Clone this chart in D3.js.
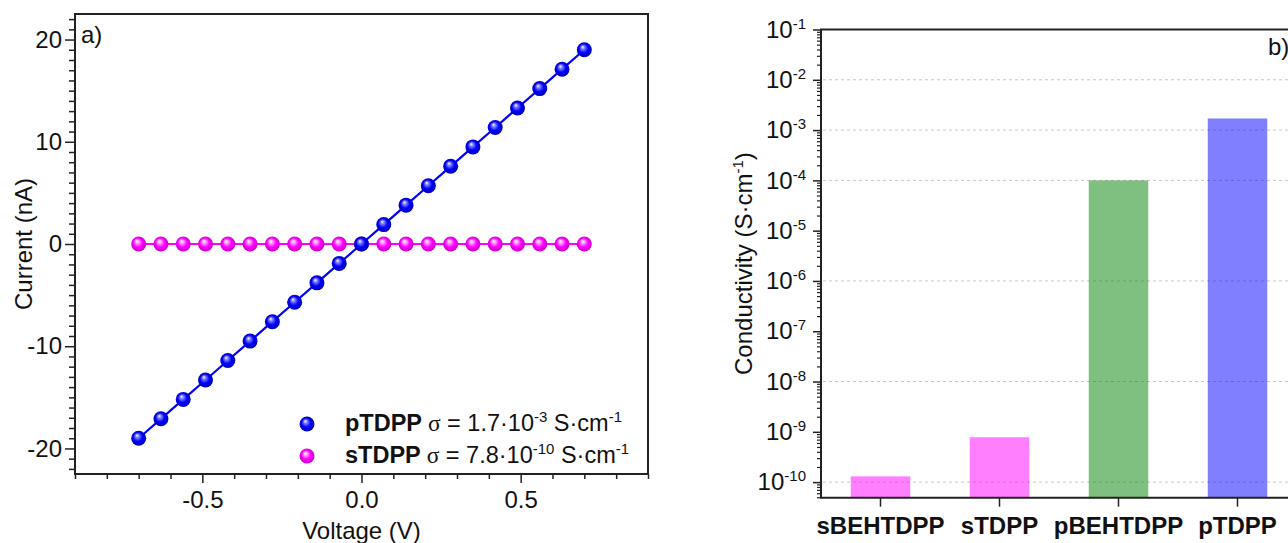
<!DOCTYPE html>
<html>
<head>
<meta charset="utf-8">
<script src="https://cdn.jsdelivr.net/npm/d3@7"></script>
<style>
  html, body { margin: 0; padding: 0; background: #fff; overflow: hidden; }
  svg { display: block; font-family: "Liberation Sans", Arial, sans-serif; }
</style>
</head>
<body>
<script>
//-----------------Data----------------

const voltage = [-0.70, -0.63, -0.56, -0.49, -0.42, -0.35, -0.28, -0.21, -0.14, -0.07, 0.00,
  0.07, 0.14, 0.21, 0.28, 0.35, 0.42, 0.49, 0.56, 0.63, 0.70];
const currentPTDPP = [-19.0, -17.1, -15.2, -13.3, -11.4, -9.5, -7.6, -5.7, -3.8, -1.9, 0.0,
  1.9, 3.8, 5.7, 7.6, 9.5, 11.4, 13.3, 15.2, 17.1, 19.0];
const currentSTDPP = [0, 0, 0, 0, 0, 0, 0, 0, 0, 0, 0, 0, 0, 0, 0, 0, 0, 0, 0, 0, 0];
const legendNames = ["pTDPP", "sTDPP"];
const legendMantissa = ["1.7", "7.8"];
const legendExponent = ["-3", "-10"];

const materials = ["sBEHTDPP", "sTDPP", "pBEHTDPP", "pTDPP"];
const conductivity = [1.3e-10, 7.8e-10, 1.0e-4, 1.7e-3];
const barColors = ["#ff00ff", "#ff00ff", "#008000", "#0000ff"];

const currentTicks = [-20, -10, 0, 10, 20];
const voltageTicks = [-0.5, 0, 0.5];
const decadeTicks = [-1, -2, -3, -4, -5, -6, -7, -8, -9, -10];
const gridDecades = [-2, -3, -4, -6, -8, -10];

//-----------------Main svg----------------

const width = 1288;
const height = 543;
const fs = 24;
const supFs = 15;
const svg = d3.select("body").append("svg").attr("width", width).attr("height", height);

const defs = svg.append("defs");
function ballGradient(id, light, base, dark) {
  const g = defs.append("radialGradient").attr("id", id)
    .attr("cx", "50%").attr("cy", "50%").attr("r", "55%")
    .attr("fx", "38%").attr("fy", "30%");
  g.append("stop").attr("offset", "0%").attr("stop-color", "#ffffff");
  g.append("stop").attr("offset", "22%").attr("stop-color", light);
  g.append("stop").attr("offset", "55%").attr("stop-color", base);
  g.append("stop").attr("offset", "100%").attr("stop-color", dark);
}
ballGradient("ballBlue", "#8080ff", "#0000ff", "#0000a8");
ballGradient("ballPink", "#ffa0ff", "#ff00ff", "#c000c0");

//-----------------Panel a: I-V curves----------------

const xV = d3.scaleLinear().domain([-0.9, 0.9]).range([75, 648]);
const yI = d3.scaleLinear().domain([-22.5, 22.5]).range([474, 14]);

const minorI = d3.range(-22, 23, 1).filter((v) => v % 10 !== 0);
const minorV = d3.range(-9, 10, 1).map((v) => v / 10).filter((v) => Math.abs(v * 10) % 5 !== 0);

svg.append("g").attr("transform", "translate(75,0)")
  .call(d3.axisLeft(yI).tickValues(minorI).tickSize(6).tickFormat(""))
  .call((g) => g.select(".domain").remove())
  .selectAll("line").attr("stroke", "#222").attr("stroke-width", 1.5);
svg.append("g").attr("transform", "translate(0,474)")
  .call(d3.axisBottom(xV).tickValues(minorV).tickSize(5).tickFormat(""))
  .call((g) => g.select(".domain").remove())
  .selectAll("line").attr("stroke", "#222").attr("stroke-width", 1.5);

svg.append("g").attr("transform", "translate(75,0)")
  .call(d3.axisLeft(yI).tickValues(currentTicks).tickSize(10).tickPadding(3).tickFormat((d) => String(d)))
  .call((g) => g.select(".domain").remove())
  .call((g) => g.selectAll("line").attr("stroke", "#222").attr("stroke-width", 1.5))
  .call((g) => g.selectAll("text").attr("font-size", fs).attr("fill", "#111").attr("font-family", null));
svg.append("g").attr("transform", "translate(0,474)")
  .call(d3.axisBottom(xV).tickValues(voltageTicks).tickSize(9).tickPadding(8).tickFormat((d) => d.toFixed(1)))
  .call((g) => g.select(".domain").remove())
  .call((g) => g.selectAll("line").attr("stroke", "#222").attr("stroke-width", 1.5))
  .call((g) => g.selectAll("text").attr("font-size", fs).attr("fill", "#111").attr("font-family", null));

svg.append("rect").attr("x", 75).attr("y", 14).attr("width", 648 - 75).attr("height", 474 - 14)
  .attr("fill", "none").attr("stroke", "#222").attr("stroke-width", 2);

const series = [
  { values: currentSTDPP, color: "#ff00ff", grad: "ballPink" },
  { values: currentPTDPP, color: "#0000ff", grad: "ballBlue" }
];
const line = d3.line().x((d, i) => xV(voltage[i])).y((d) => yI(d));

series.forEach((s) => {
  svg.append("path").datum(s.values).attr("d", line)
    .attr("fill", "none").attr("stroke", s.color).attr("stroke-width", 2.2);
  svg.append("g").selectAll("circle").data(s.values).join("circle")
    .attr("cx", (d, i) => xV(voltage[i])).attr("cy", (d) => yI(d)).attr("r", 7.5)
    .attr("fill", `url(#${s.grad})`);
});

svg.append("text").attr("x", 81).attr("y", 43).attr("font-size", fs).attr("fill", "#111").text("a)");

svg.append("text").attr("transform", `translate(32,${(14 + 474) / 2}) rotate(-90)`)
  .attr("text-anchor", "middle").attr("font-size", fs).attr("fill", "#111").text("Current (nA)");
svg.append("text").attr("x", xV(0)).attr("y", 539)
  .attr("text-anchor", "middle").attr("font-size", fs).attr("fill", "#111").text("Voltage (V)");

//-----------------Legend----------------

const legendGrads = ["ballBlue", "ballPink"];
legendNames.forEach((name, i) => {
  const cy = 424 + i * 32;
  svg.append("circle").attr("cx", 307).attr("cy", cy).attr("r", 7.5).attr("fill", `url(#${legendGrads[i]})`);
  const t = svg.append("text").attr("x", 345).attr("y", cy + 7).attr("font-size", 23.5).attr("fill", "#111");
  t.append("tspan").attr("font-weight", "bold").text(name);
  t.append("tspan").attr("font-family", "'Liberation Serif', serif").text(" \u03c3");
  t.append("tspan").text(` = ${legendMantissa[i]}\u00b710`);
  t.append("tspan").attr("font-size", supFs).attr("dy", -9).text(legendExponent[i]);
  t.append("tspan").attr("dy", 9).text(" S\u00b7cm");
  t.append("tspan").attr("font-size", supFs).attr("dy", -9).text("-1");
});

//-----------------Panel b: conductivity bars----------------

const top2 = 29.5;
const bottom2 = 497.7;
const yC = d3.scaleLog().domain([Math.pow(10, -10.31), 0.1]).range([bottom2, top2]);
const xM = d3.scaleBand().domain(materials).range([821, 1297]).paddingInner(0.5).paddingOuter(0.25);

svg.append("g").selectAll("line").data(gridDecades).join("line")
  .attr("x1", 823).attr("x2", 1297)
  .attr("y1", (d) => yC(Math.pow(10, d))).attr("y2", (d) => yC(Math.pow(10, d)))
  .attr("stroke", "#c8c8c8").attr("stroke-width", 1).attr("stroke-dasharray", "3,3");

svg.append("g").selectAll("rect").data(conductivity).join("rect")
  .attr("x", (d, i) => xM(materials[i])).attr("width", xM.bandwidth())
  .attr("y", (d) => yC(d)).attr("height", (d) => bottom2 - yC(d))
  .attr("fill", (d, i) => barColors[i]).attr("fill-opacity", 0.5);

const minorC = [];
for (let e = -11; e <= -2; e++) {
  for (let m = 2; m <= 9; m++) {
    const v = m * Math.pow(10, e);
    if (v >= yC.domain()[0] && v <= 0.1) minorC.push(v);
  }
}
svg.append("g").attr("transform", "translate(821,0)")
  .call(d3.axisLeft(yC).tickValues(minorC).tickSize(4).tickFormat(""))
  .call((g) => g.select(".domain").remove())
  .selectAll("line").attr("stroke", "#222").attr("stroke-width", 1.2);

svg.append("g").attr("transform", "translate(821,0)")
  .call(d3.axisLeft(yC).tickValues(decadeTicks.map((e) => Math.pow(10, e))).tickSize(8).tickPadding(7).tickFormat(() => ""))
  .call((g) => g.select(".domain").remove())
  .call((g) => g.selectAll("line").attr("stroke", "#222").attr("stroke-width", 1.5))
  .call((g) => g.selectAll("text").attr("font-size", fs).attr("fill", "#111").attr("font-family", null)
    .each(function (d) {
      const t = d3.select(this);
      t.append("tspan").text("10");
      t.append("tspan").attr("font-size", supFs).attr("dy", -9).text(Math.round(Math.log10(d)));
    }));

svg.append("g").attr("transform", `translate(0,${bottom2})`)
  .call(d3.axisBottom(xM).tickSize(9).tickPadding(10))
  .call((g) => g.select(".domain").remove())
  .call((g) => g.selectAll("line").attr("stroke", "#222").attr("stroke-width", 1.5))
  .call((g) => g.selectAll("text").attr("font-size", fs).attr("font-weight", "bold").attr("fill", "#111").attr("font-family", null));

svg.append("path").attr("d", `M1297,${top2}H821V${bottom2}H1297`)
  .attr("fill", "none").attr("stroke", "#222").attr("stroke-width", 2);

svg.append("text").attr("x", 1268).attr("y", 55).attr("font-size", fs).attr("fill", "#111").text("b)");

const cLabel = svg.append("text").attr("transform", `translate(752,${(top2 + bottom2) / 2}) rotate(-90)`)
  .attr("text-anchor", "middle").attr("font-size", fs).attr("fill", "#111");
cLabel.append("tspan").text("Conductivity (S\u00b7cm");
cLabel.append("tspan").attr("font-size", supFs).attr("dy", -9).text("-1");
cLabel.append("tspan").attr("dy", 9).text(")");
</script>
</body>
</html>
